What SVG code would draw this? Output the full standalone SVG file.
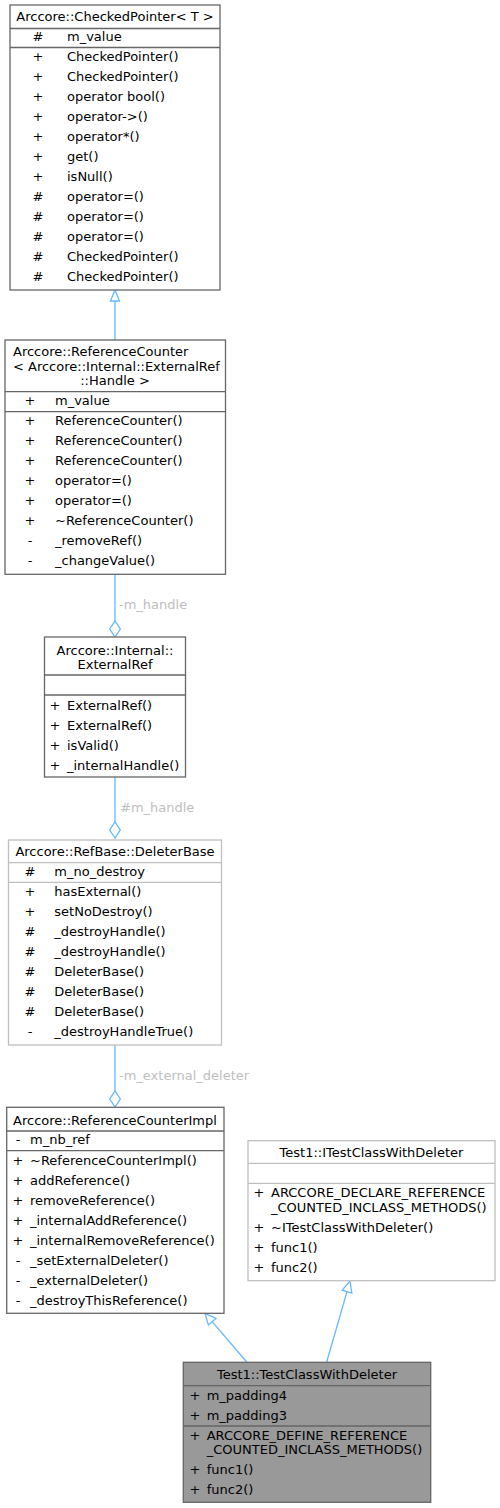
<svg xmlns="http://www.w3.org/2000/svg" width="500" height="1508" viewBox="0 0 500 1508">
<style>
text{font-family:"DejaVu Sans","Liberation Sans",sans-serif;font-size:13px;fill:#000}
.c{text-anchor:middle}
.box{fill:#fff;stroke:#666;stroke-width:1.3}
.lbox{fill:#fff;stroke:#bfbfbf;stroke-width:1.3}
.main{fill:#999;stroke:#666;stroke-width:1.3}
.sep{stroke:#666;stroke-width:1.3}
.lsep{stroke:#bfbfbf;stroke-width:1.3}
.edge{stroke:#63b8ff;stroke-width:1.3;fill:none}
.head{stroke:#63b8ff;stroke-width:1.3;fill:#fff}
.lbl{fill:#bebebe}
</style>
<g id="edges">
<line class="edge" x1="115" y1="301" x2="115" y2="340"/>
<polygon class="head" points="115,290 110.5,301 119.5,301"/>
<line class="edge" x1="115" y1="574" x2="115" y2="621"/>
<polygon class="head" points="115,637 109.7,629 115,621 120.3,629"/>
<text class="lbl" x="119" y="609">-m_handle</text>
<line class="edge" x1="115" y1="777" x2="115" y2="822"/>
<polygon class="head" points="115,838 109.7,830 115,822 120.3,830"/>
<text class="lbl" x="120" y="812">#m_handle</text>
<line class="edge" x1="115" y1="1045" x2="115" y2="1091"/>
<polygon class="head" points="115,1107 109.7,1099 115,1091 120.3,1099"/>
<text class="lbl" x="119" y="1080">-m_external_deleter</text>
<line class="edge" x1="246.7" y1="1362" x2="212.2" y2="1321.7"/>
<polygon class="head" points="205,1313.3 216,1318.4 208.4,1324.9"/>
<line class="edge" x1="326.7" y1="1362" x2="347" y2="1291.6"/>
<polygon class="head" points="350,1281 351.8,1293 342.2,1290.2"/>
</g>
<g id="CheckedPointer">
<rect class="box" x="10" y="5" width="210" height="285"/>
<line class="sep" x1="10" y1="28.5" x2="220" y2="28.5"/>
<line class="sep" x1="10" y1="47.5" x2="220" y2="47.5"/>
<text class="c" x="115" y="21">Arccore::CheckedPointer&lt; T &gt;</text>
<text class="c" x="38" y="41">#</text><text x="67" y="41">m_value</text>
<text class="c" x="38" y="61">+</text><text x="67" y="61">CheckedPointer()</text>
<text class="c" x="38" y="81">+</text><text x="67" y="81">CheckedPointer()</text>
<text class="c" x="38" y="101">+</text><text x="67" y="101">operator bool()</text>
<text class="c" x="38" y="121">+</text><text x="67" y="121">operator-&gt;()</text>
<text class="c" x="38" y="141">+</text><text x="67" y="141">operator*()</text>
<text class="c" x="38" y="161">+</text><text x="67" y="161">get()</text>
<text class="c" x="38" y="181">+</text><text x="67" y="181">isNull()</text>
<text class="c" x="38" y="201">#</text><text x="67" y="201">operator=()</text>
<text class="c" x="38" y="221">#</text><text x="67" y="221">operator=()</text>
<text class="c" x="38" y="241">#</text><text x="67" y="241">operator=()</text>
<text class="c" x="38" y="261">#</text><text x="67" y="261">CheckedPointer()</text>
<text class="c" x="38" y="281">#</text><text x="67" y="281">CheckedPointer()</text>
</g>
<g id="ReferenceCounter">
<rect class="box" x="5" y="340" width="220.5" height="234.3"/>
<line class="sep" x1="5" y1="391.7" x2="225.5" y2="391.7"/>
<line class="sep" x1="5" y1="411.7" x2="225.5" y2="411.7"/>
<text x="13" y="356">Arccore::ReferenceCounter</text>
<text x="13" y="370.5">&lt; Arccore::Internal::ExternalRef</text>
<text class="c" x="115" y="385">::Handle &gt;</text>
<text class="c" x="30" y="405">+</text><text x="55" y="405">m_value</text>
<text class="c" x="30" y="425">+</text><text x="55" y="425">ReferenceCounter()</text>
<text class="c" x="30" y="445">+</text><text x="55" y="445">ReferenceCounter()</text>
<text class="c" x="30" y="465">+</text><text x="55" y="465">ReferenceCounter()</text>
<text class="c" x="30" y="485">+</text><text x="55" y="485">operator=()</text>
<text class="c" x="30" y="505">+</text><text x="55" y="505">operator=()</text>
<text class="c" x="30" y="525">+</text><text x="55" y="525">~ReferenceCounter()</text>
<text class="c" x="30" y="545">-</text><text x="55" y="545">_removeRef()</text>
<text class="c" x="30" y="565">-</text><text x="55" y="565">_changeValue()</text>
</g>
<g id="ExternalRef">
<rect class="box" x="44.5" y="637" width="141" height="140"/>
<line class="sep" x1="44.5" y1="675" x2="185.5" y2="675"/>
<line class="sep" x1="44.5" y1="695" x2="185.5" y2="695"/>
<text class="c" x="115" y="654.5">Arccore::Internal::</text>
<text class="c" x="115" y="668.5">ExternalRef</text>
<text class="c" x="55" y="709.5">+</text><text x="67" y="709.5">ExternalRef()</text>
<text class="c" x="55" y="729.5">+</text><text x="67" y="729.5">ExternalRef()</text>
<text class="c" x="55" y="749.5">+</text><text x="67" y="749.5">isValid()</text>
<text class="c" x="55" y="769.5">+</text><text x="67" y="769.5">_internalHandle()</text>
</g>
<g id="DeleterBase">
<rect class="lbox" x="8.5" y="840" width="213" height="205"/>
<line class="lsep" x1="8.5" y1="862.7" x2="221.5" y2="862.7"/>
<line class="lsep" x1="8.5" y1="882.3" x2="221.5" y2="882.3"/>
<text class="c" x="115" y="856">Arccore::RefBase::DeleterBase</text>
<text class="c" x="30" y="876">#</text><text x="54.3" y="876">m_no_destroy</text>
<text class="c" x="30" y="896">+</text><text x="54.3" y="896">hasExternal()</text>
<text class="c" x="30" y="916">+</text><text x="54.3" y="916">setNoDestroy()</text>
<text class="c" x="30" y="936">#</text><text x="54.3" y="936">_destroyHandle()</text>
<text class="c" x="30" y="956">#</text><text x="54.3" y="956">_destroyHandle()</text>
<text class="c" x="30" y="976">#</text><text x="54.3" y="976">DeleterBase()</text>
<text class="c" x="30" y="996">#</text><text x="54.3" y="996">DeleterBase()</text>
<text class="c" x="30" y="1016">#</text><text x="54.3" y="1016">DeleterBase()</text>
<text class="c" x="30" y="1036">-</text><text x="54.3" y="1036">_destroyHandleTrue()</text>
</g>
<g id="ReferenceCounterImpl">
<rect class="box" x="6.7" y="1107.3" width="217.3" height="206"/>
<line class="sep" x1="6.7" y1="1131" x2="224" y2="1131"/>
<line class="sep" x1="6.7" y1="1150.7" x2="224" y2="1150.7"/>
<text class="c" x="115" y="1124.5">Arccore::ReferenceCounterImpl</text>
<text class="c" x="18" y="1144">-</text><text x="30" y="1144">m_nb_ref</text>
<text class="c" x="18" y="1164.5">+</text><text x="30" y="1164.5">~ReferenceCounterImpl()</text>
<text class="c" x="18" y="1184.5">+</text><text x="30" y="1184.5">addReference()</text>
<text class="c" x="18" y="1204.5">+</text><text x="30" y="1204.5">removeReference()</text>
<text class="c" x="18" y="1224.5">+</text><text x="30" y="1224.5">_internalAddReference()</text>
<text class="c" x="18" y="1244.5">+</text><text x="30" y="1244.5">_internalRemoveReference()</text>
<text class="c" x="18" y="1264.5">-</text><text x="30" y="1264.5">_setExternalDeleter()</text>
<text class="c" x="18" y="1284.5">-</text><text x="30" y="1284.5">_externalDeleter()</text>
<text class="c" x="18" y="1304.5">-</text><text x="30" y="1304.5">_destroyThisReference()</text>
</g>
<g id="ITestClassWithDeleter">
<rect class="lbox" x="248" y="1140.7" width="247" height="140"/>
<line class="lsep" x1="248" y1="1163.3" x2="495" y2="1163.3"/>
<line class="lsep" x1="248" y1="1183.3" x2="495" y2="1183.3"/>
<text class="c" x="371.5" y="1157">Test1::ITestClassWithDeleter</text>
<text class="c" x="259" y="1197">+</text><text x="271" y="1197">ARCCORE_DECLARE_REFERENCE</text>
<text x="271" y="1212">_COUNTED_INCLASS_METHODS()</text>
<text class="c" x="259" y="1232">+</text><text x="271" y="1232">~ITestClassWithDeleter()</text>
<text class="c" x="259" y="1252">+</text><text x="271" y="1252">func1()</text>
<text class="c" x="259" y="1272">+</text><text x="271" y="1272">func2()</text>
</g>
<g id="TestClassWithDeleter">
<rect class="main" x="183.3" y="1362.3" width="247.4" height="140"/>
<line class="sep" x1="183.3" y1="1385.7" x2="430.7" y2="1385.7"/>
<line class="sep" x1="183.3" y1="1426" x2="430.7" y2="1426"/>
<text class="c" x="307" y="1378.5">Test1::TestClassWithDeleter</text>
<text class="c" x="195" y="1399.5">+</text><text x="206.7" y="1399.5">m_padding4</text>
<text class="c" x="195" y="1419.5">+</text><text x="206.7" y="1419.5">m_padding3</text>
<text class="c" x="195" y="1439.5">+</text><text x="206.7" y="1439.5">ARCCORE_DEFINE_REFERENCE</text>
<text x="206.7" y="1454">_COUNTED_INCLASS_METHODS()</text>
<text class="c" x="195" y="1474">+</text><text x="206.7" y="1474">func1()</text>
<text class="c" x="195" y="1494">+</text><text x="206.7" y="1494">func2()</text>
</g>
</svg>
